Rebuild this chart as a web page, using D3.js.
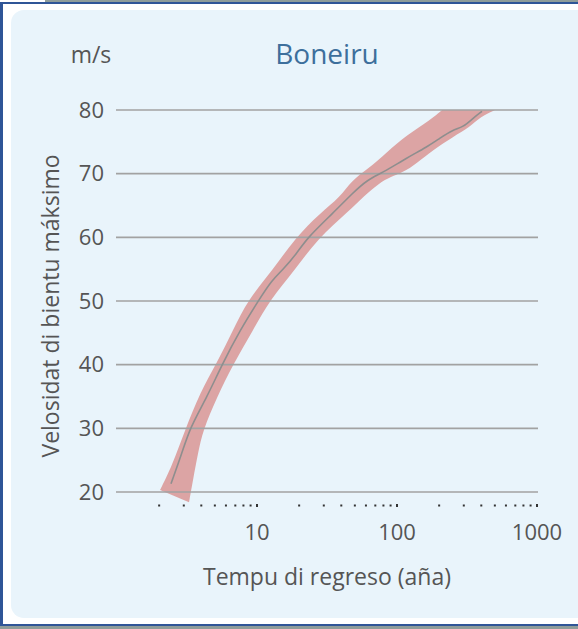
<!DOCTYPE html>
<html>
<head>
<meta charset="utf-8">
<script src="https://cdn.jsdelivr.net/npm/d3@7"></script>
<style>
  html, body { margin: 0; padding: 0; background: #fff; }
  svg text { font-family: "Open Sans", "Noto Sans", sans-serif; }
</style>
</head>
<body>
<div id="chart"></div>
<script>
// data (return period in years, wind speed in m/s)
const title = "Boneiru";
const unitLabel = "m/s";
const xTitle = "Tempu di regreso (aña)";
const yTitle = "Velosidat di bientu máksimo";

const yTicks = [20, 30, 40, 50, 60, 70, 80];
const xLabels = [10, 100, 1000];
const xMinor = [2, 3, 4, 5, 6, 7, 8, 9, 10, 20, 30, 40, 50, 60, 70, 80, 90, 100,
                200, 300, 400, 500, 600, 700, 800, 900, 1000];

// central estimate
const centerT = [2.43, 2.91, 3.32, 4.39, 5.62, 7.56, 10.2, 12.8, 15.3, 19.3, 22.8, 34.9,
                 48.5, 61.1, 78.1, 118, 164, 203, 251, 296, 349, 405];
const centerV = [21.3, 26.1, 30.1, 34.9, 40.0, 45.4, 50.0, 53.3, 54.9, 57.5, 59.9, 63.8,
                 67.0, 69.0, 70.1, 72.5, 74.2, 75.6, 76.9, 77.3, 78.7, 79.8];

// upper edge of the uncertainty band
const upperT = [2.03, 2.47, 3.06, 3.91, 5.18, 6.74, 8.62, 13.0, 18.7, 28.2, 39.2, 47.7,
                61.1, 84.8, 118, 172, 210];
const upperV = [20.3, 24.1, 29.7, 35.6, 40.3, 45.4, 50.2, 54.9, 59.9, 63.8, 66.3, 69.0,
                70.6, 73.4, 76.1, 78.4, 80.0];

// lower edge of the uncertainty band
const lowerT = [3.27, 3.49, 3.79, 4.11, 5.18, 6.74, 9.36, 12.4, 18.7, 27.3, 44.0, 75.6,
                110, 139, 181, 251, 332, 392, 501];
const lowerV = [18.4, 21.9, 26.1, 29.7, 34.9, 40.0, 45.4, 50.2, 54.9, 59.9, 63.8, 69.0,
                70.1, 71.7, 73.7, 75.8, 77.3, 78.9, 80.0];

const width = 578;
const height = 629;

const svg = d3.select("#chart")
  .append("svg")
  .attr("width", width)
  .attr("height", height);

// frame around the panel
svg.append("rect").attr("x", 45).attr("y", 0).attr("width", width - 45).attr("height", 2)
  .attr("fill", "#8e9c9a");
svg.append("rect").attr("x", 0).attr("y", 626).attr("width", width).attr("height", 3)
  .attr("fill", "#8e9c9a");
svg.append("line").attr("x1", 0).attr("x2", width).attr("y1", 3).attr("y2", 3)
  .attr("stroke", "#2f5597").attr("stroke-width", 2);
svg.append("line").attr("x1", 0).attr("x2", width).attr("y1", 625).attr("y2", 625)
  .attr("stroke", "#2f5597").attr("stroke-width", 2);
svg.append("line").attr("x1", 1.5).attr("x2", 1.5).attr("y1", 3).attr("y2", 625)
  .attr("stroke", "#2f5597").attr("stroke-width", 3);

svg.append("rect")
  .attr("x", 11).attr("y", 10)
  .attr("width", 600).attr("height", 608)
  .attr("rx", 13)
  .attr("fill", "#e9f4fb");

const x = d3.scaleLog().domain([1, 1000]).range([117, 537]);
const y = d3.scaleLinear().domain([20, 80]).range([492, 110]);

const edge = d3.line()
  .x(d => x(d[0]))
  .y(d => y(d[1]))
  .curve(d3.curveBasis);

// uncertainty band: upper edge forward, lower edge backward
const upperPts = upperT.map((t, i) => [t, upperV[i]]);
const lowerPts = lowerT.map((t, i) => [t, lowerV[i]]).reverse();
const bandPath = edge(upperPts) + "L" + edge(lowerPts).slice(1) + "Z";

svg.append("path")
  .attr("fill", "#dca4a4")
  .attr("d", bandPath);

// gridlines
svg.append("g")
  .selectAll("line")
  .data(yTicks)
  .join("line")
  .attr("x1", 116).attr("x2", 538)
  .attr("y1", d => y(d)).attr("y2", d => y(d))
  .attr("stroke", "#a2a2a2")
  .attr("stroke-width", 1.6);

// central line
svg.append("path")
  .datum(centerT.map((t, i) => [t, centerV[i]]))
  .attr("fill", "none")
  .attr("stroke", "#8e8e8e")
  .attr("stroke-width", 1.6)
  .attr("d", edge);

// y tick labels
svg.append("g")
  .selectAll("text")
  .data(yTicks)
  .join("text")
  .attr("x", 104)
  .attr("y", d => y(d))
  .attr("dy", "0.35em")
  .attr("text-anchor", "end")
  .attr("font-size", 22)
  .attr("fill", "#555")
  .text(d => d);

// x minor dots
svg.append("g")
  .selectAll("rect")
  .data(xMinor)
  .join("rect")
  .attr("x", d => x(d) - 1)
  .attr("y", d => xLabels.includes(d) ? 504 : 504.5)
  .attr("width", 2)
  .attr("height", d => xLabels.includes(d) ? 3 : 2)
  .attr("fill", "#333");

// x labels
svg.append("g")
  .selectAll("text")
  .data(xLabels)
  .join("text")
  .attr("x", d => x(d))
  .attr("y", 540)
  .attr("text-anchor", "middle")
  .attr("font-size", 22)
  .attr("fill", "#555")
  .text(d => d);

svg.append("text")
  .attr("x", 91).attr("y", 63)
  .attr("text-anchor", "middle")
  .attr("font-size", 23)
  .attr("fill", "#555")
  .text(unitLabel);

svg.append("text")
  .attr("x", 327).attr("y", 64)
  .attr("text-anchor", "middle")
  .attr("font-size", 28)
  .attr("fill", "#3d6f9c")
  .text(title);

svg.append("text")
  .attr("x", 327).attr("y", 585)
  .attr("text-anchor", "middle")
  .attr("font-size", 23)
  .attr("fill", "#555")
  .text(xTitle);

svg.append("text")
  .attr("transform", "translate(59,306) rotate(-90)")
  .attr("text-anchor", "middle")
  .attr("font-size", 23)
  .attr("fill", "#555")
  .text(yTitle);
</script>
</body>
</html>
